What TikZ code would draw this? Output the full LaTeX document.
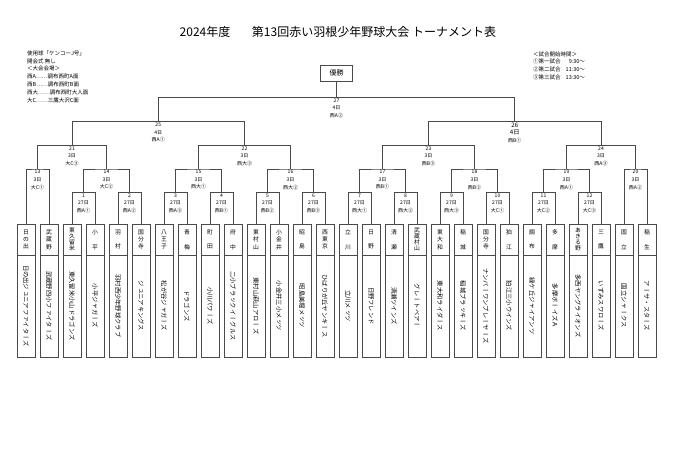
\documentclass[tikz,border=0pt]{standalone}
\usepackage{fontspec}
\setmainfont{Noto Sans CJK JP}
\newfontfamily\tate[Vertical=RotatedGlyphs]{Noto Sans CJK JP}
\usepackage{tikz}
\usetikzlibrary{positioning}
\definecolor{Line}{HTML}{4A4A4A}

\tikzset{
  wire/.style={draw=Line, line width=0.7pt},
  cell/.style={draw=Line, line width=0.7pt, inner sep=0pt, outer sep=0pt},
  head/.style={cell, minimum width=18pt, minimum height=31pt, align=center, font=\fontsize{5.8}{7.4}\selectfont},
  team/.style={cell, rotate=-90, minimum width=102pt, minimum height=18pt, font=\tate\fontsize{6.3}{7}\selectfont},
  info/.style={anchor=north, inner sep=0pt, align=center, font=\fontsize{5}{7.7}\selectfont},
  title/.style={font=\fontsize{12}{14}\selectfont, inner sep=0pt},
  memo/.style={anchor=north west, inner sep=0pt, align=left, font=\fontsize{5.5}{7.8}\selectfont},
}

\begin{document}
\begin{tikzpicture}[x=1pt,y=-1pt]
  \useasboundingbox (0,0) rectangle (673,476);
  \fill[white] (0,0) rectangle (673,476);

  % title and notes
  \node[title] (year) at (205,32) {2024年度};
  \node[title] (name) at (374,32) {第13回赤い羽根少年野球大会\ トーナメント表};
  \node[memo] (rules) at (27,50.5) {使用球「ケンコーJ号」\\開会式\ 無し\\＜大会会場＞\\西A……調布西町A面\\西B……調布西町B面\\西大……調布西町大人面\\大C……三鷹大沢C面};
  \node[memo] (times) at (533,50.5) {\renewcommand{\arraystretch}{1}%
    \begin{tabular}{@{}l@{\hspace{5pt}}r@{}}
      \multicolumn{2}{@{}l}{＜試合開始時間＞}\\
      ①第一試合 & 9:30～\\
      ②第二試合 & 11:30～\\
      ③第三試合 & 13:30～
    \end{tabular}};
  \node[cell, line width=0.9pt, minimum width=32pt, minimum height=16pt, font=\fontsize{7}{8}\selectfont] (win) at (336.5,73) {優勝};

  % teams
  \foreach \i/\h/\t in {
    0/{日\\の\\出}/日の出ジュニアファイターズ,
    1/{武\\蔵\\野}/武蔵野四小ファイターズ,
    2/{東\\[-1.3pt]久\\[-1.3pt]留\\[-1.3pt]米}/東久留米小山ドラゴンズ,
    3/{小\\　\\平}/小平ジャガーズ,
    4/{羽\\　\\村}/羽村西少年野球クラブ,
    5/{国\\分\\寺}/ジュニアキングス,
    6/{八\\王\\子}/松が谷ジャガーズ,
    7/{青\\　\\梅}/ドラゴンズ,
    8/{町\\　\\田}/小川パワーズ,
    9/{府\\　\\中}/二小ブラックイーグルス,
    10/{東\\村\\山}/東村山萩山アローズ,
    11/{小\\金\\井}/小金井三小メッツ,
    12/{昭\\　\\島}/昭島美堀メッツ,
    13/{西\\東\\京}/ひばりが丘ヤンキース,
    14/{立\\　\\川}/立川メッツ,
    15/{日\\　\\野}/日野フレンド,
    16/{清\\　\\瀬}/清瀬ツインズ,
    17/{武\\[-1.3pt]蔵\\[-1.3pt]村\\[-1.3pt]山}/グレートベアー,
    18/{東\\大\\和}/東大和ライダース,
    19/{稲\\　\\城}/稲城ブラッキーズ,
    20/{国\\分\\寺}/ナンバーワンプレーヤーズ,
    21/{狛\\　\\江}/狛江三小ウインズ,
    22/{調\\　\\布}/緑ケ丘ジャイアンツ,
    23/{多\\　\\摩}/多摩ボーイズＡ,
    24/{あ\\[-1.3pt]き\\[-1.3pt]る\\[-1.3pt]野}/多西ヤングライオンズ,
    25/{三\\　\\鷹}/いずみスワローズ,
    26/{国\\　\\立}/国立シャークス,
    27/{稲\\　\\生}/アーサ・スターズ}{
    \node[head] (h\i) at ({26+23*\i},239.5) {\h};
    \node[team] (t\i) at ({26+23*\i},306) {\t};
  }

  % match points
  \foreach \m/\x in {1/83.5,2/129.5,3/175.5,4/221.5,5/267.5,6/313.5,7/359.5,8/405.5,9/451.5,10/497.5,11/543.5,12/589.5}
    \coordinate (m\m) at (\x,192.5);
  \foreach \m/\x in {13/37.5,14/106.5,15/198.5,16/290.5,17/382.5,18/474.5,19/566.5,20/635.5}
    \coordinate (m\m) at (\x,169);
  \foreach \m/\x in {21/72,22/244.5,23/428.5,24/601}
    \coordinate (m\m) at (\x,145.5);
  \coordinate (m25) at (158.25,121.7);
  \coordinate (m26) at (514.75,121.7);
  \coordinate (m27) at (336.5,97.5);

  % bracket
  \foreach \m in {1,...,12}{
    \pgfmathtruncatemacro\a{2*\m}
    \pgfmathtruncatemacro\b{2*\m+1}
    \draw[wire] (h\a.north) |- (m\m) -| (h\b.north);
  }
  \draw[wire] (h0.north) |- (m13) -| (h1.north);
  \draw[wire] (h26.north) |- (m20) -| (h27.north);
  \foreach \m/\a/\b in {14/1/2,15/3/4,16/5/6,17/7/8,18/9/10,19/11/12,21/13/14,22/15/16,23/17/18,24/19/20,25/21/22,26/23/24,27/25/26}
    \draw[wire] (m\a) |- (m\m) -| (m\b);
  \draw[wire] (m27) -- (win.south);

  % match labels
  \foreach \m/\d/\v in {1/27日/西A①,2/27日/西A②,3/27日/西A③,4/27日/西B①,5/27日/西B②,6/27日/西B③,
      7/27日/西大①,8/27日/西大②,9/27日/西大③,10/27日/大C①,11/27日/大C②,12/27日/大C③,
      13/3日/大C①,14/3日/大C②,15/3日/西大①,16/3日/西大②,17/3日/西B①,18/3日/西B②,19/3日/西A①,20/3日/西A②,
      21/3日/大C③,22/3日/西大③,23/3日/西B③,24/3日/西A③,25/4日/西A①,27/4日/西A②}
    \node[info, below=0.8pt of m\m] (l\m) {\m\\\d\\\v};
  \node[info, below=0.8pt of m26, font=\fontsize{6.2}{7.7}\selectfont] (l26) {26\\4日\\{\fontsize{5}{6}\selectfont 西B①}};
\end{tikzpicture}
\end{document}
